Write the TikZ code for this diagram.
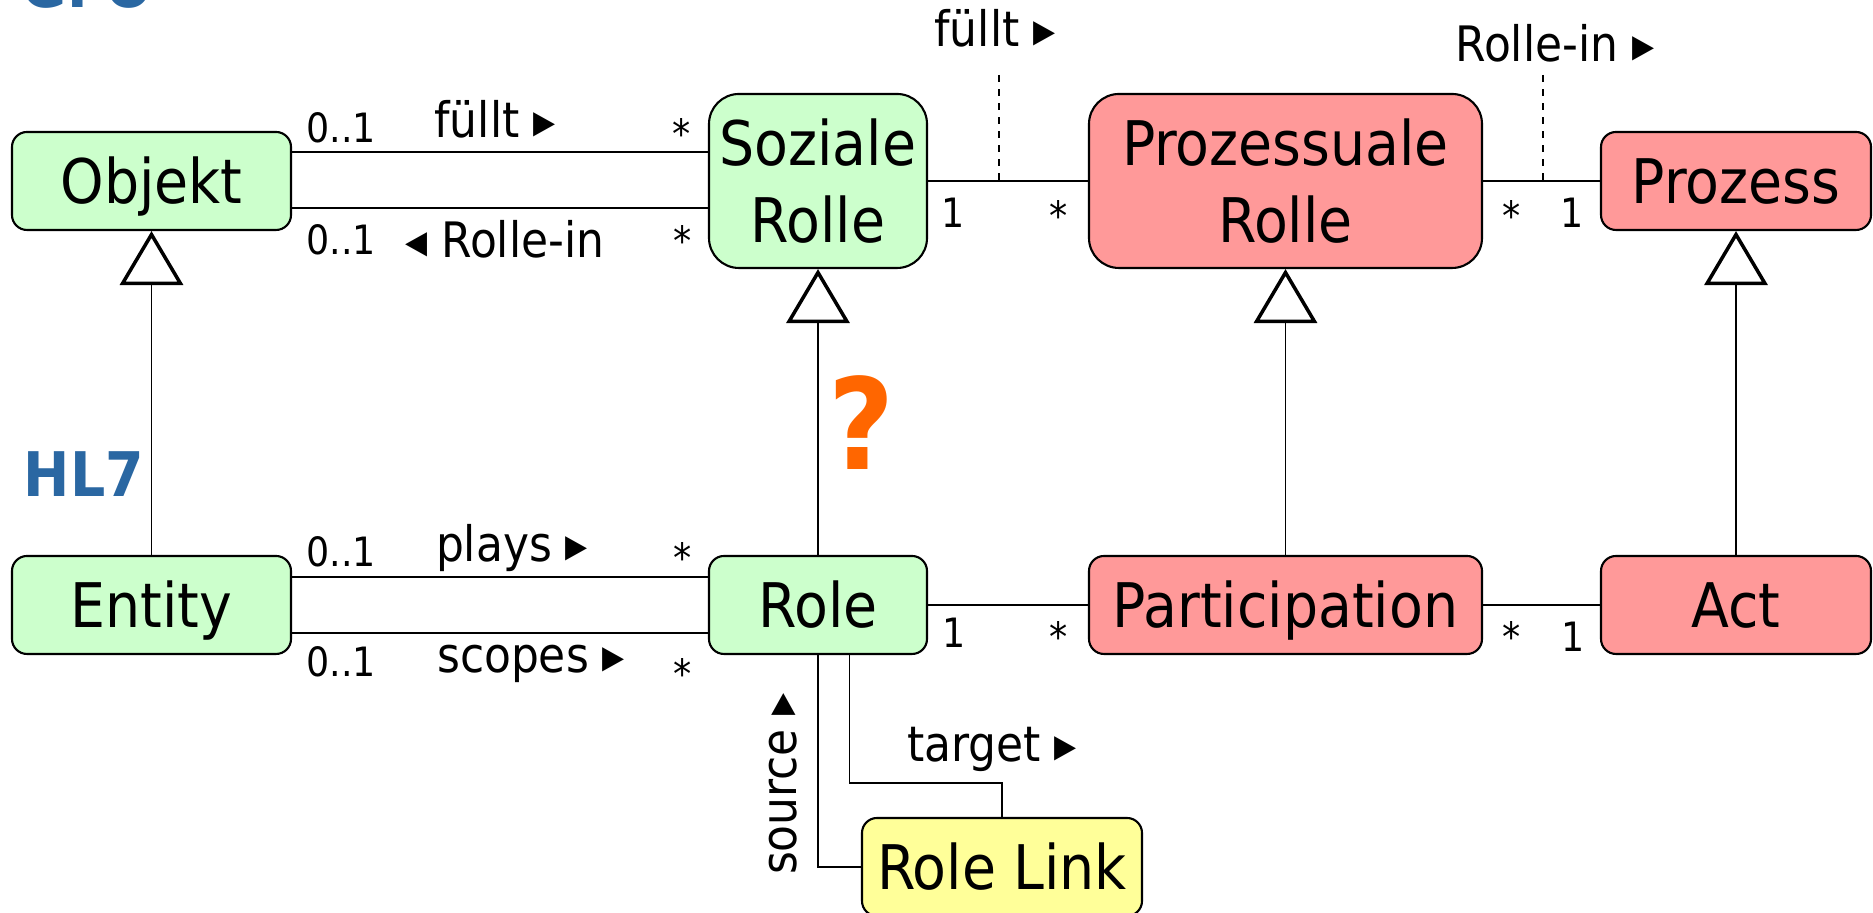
\documentclass[tikz,border=0pt]{standalone}
\usepackage{fontspec}
\setmainfont{DejaVu Sans Condensed}[BoldFont={DejaVu Sans Condensed Bold}]
\usetikzlibrary{arrows.meta}
\definecolor{umlgreen}{HTML}{CCFFCC}
\definecolor{umlred}{HTML}{FF9999}
\definecolor{umlyellow}{HTML}{FFFF99}
\definecolor{pkgblue}{HTML}{2A67A2}
\definecolor{qorange}{HTML}{FF6600}
\newcommand{\boxfont}{\fontsize{17.5pt}{21.9pt}\selectfont}

\begin{document}
\begin{tikzpicture}[
		cls/.style={draw, line width=0.6pt, rounded corners=0.15cm, inner sep=0pt, font=\boxfont, minimum height=0.98cm, text height=12.8pt, text depth=0pt},
		tall/.style={draw, line width=0.6pt, rounded corners=0.3cm, inner sep=0pt, font=\boxfont, minimum height=1.74cm, align=center},
		assoc/.style={line width=0.45pt},
		gen/.style={line width=0.45pt, -{Triangle[open, length=0.54cm, width=0.63cm, line width=1pt]}},
		hint/.style={line width=0.45pt, dash pattern=on 2pt off 2pt},
		mult/.style={anchor=base, inner sep=0pt, font=\fontsize{11.5pt}{14pt}\selectfont},
		rname/.style={anchor=base, inner sep=0pt, font=\fontsize{13.9pt}{17pt}\selectfont},
		pkg/.style={anchor=base, inner sep=0pt, text=pkgblue, font=\fontsize{17.5pt}{21pt}\selectfont\bfseries}
	]
		\useasboundingbox (0,0) rectangle (18.73,9.13);
		
		% GFO classes
		\node[cls, fill=umlgreen, minimum width=2.79cm] (obj) at (1.515,7.32) {Objekt};
		\node[tall, fill=umlgreen, minimum width=2.18cm] (soz) at (8.18,7.32) {Soziale\\Rolle};
		\node[tall, fill=umlred, minimum width=3.93cm] (proz) at (12.855,7.32) {Prozessuale\\Rolle};
		\node[cls, fill=umlred, minimum width=2.70cm] (prz) at (17.36,7.32) {Prozess};
		
		% HL7 classes
		\node[cls, fill=umlgreen, minimum width=2.79cm] (ent) at (1.515,3.08) {Entity};
		\node[cls, fill=umlgreen, minimum width=2.18cm] (role) at (8.18,3.08) {Role};
		\node[cls, fill=umlred, minimum width=3.93cm] (part) at (12.855,3.08) {Participation};
		\node[cls, fill=umlred, minimum width=2.70cm] (act) at (17.36,3.08) {Act};
		\node[cls, fill=umlyellow, minimum width=2.80cm] (rlink) at (10.02,0.46) {Role Link};
		
		\node[pkg] (gfo) at (0.87,9.05) {GFO};
		\node[pkg] (hl7) at (0.84,4.16) {HL7};
		
		% associations, top row
		\draw[assoc] ([yshift=0.29cm]obj.east) -- ([yshift=0.29cm]soz.west);
		\draw[assoc] ([yshift=-0.27cm]obj.east) -- ([yshift=-0.27cm]soz.west);
		\draw[assoc] (soz) -- (proz);
		\draw[assoc] (proz) -- (prz);
		
		\coordinate (q1) at (9.99,8.38);
		\coordinate (q2) at (15.43,8.38);
		\draw[hint] (q1) -- (q1 |- soz.east);
		\draw[hint] (q2) -- (q2 |- prz.west);
		
		\node[mult] (m1) at (3.41,7.70) {0..1};
		\node[mult] (m2) at (6.82,7.64) {*};
		\node[rname] (r1) at (4.95,7.75) {füllt ▸};
		\node[mult] (m3) at (3.41,6.58) {0..1};
		\node[mult] (m4) at (6.83,6.57) {*};
		\node[rname] (r2) at (5.05,6.55) {◂ Rolle-in};
		\node[mult] (m5) at (9.53,6.85) {1};
		\node[mult] (m6) at (10.59,6.82) {*};
		\node[rname] (r3) at (9.95,8.66) {füllt ▸};
		\node[mult] (m7) at (15.12,6.82) {*};
		\node[mult] (m8) at (15.72,6.85) {1};
		\node[rname] (r4) at (15.55,8.51) {Rolle-in ▸};
		
		% associations, bottom row
		\draw[assoc] ([yshift=0.28cm]ent.east) -- ([yshift=0.28cm]role.west);
		\draw[assoc] ([yshift=-0.28cm]ent.east) -- ([yshift=-0.28cm]role.west);
		\draw[assoc] (role) -- (part);
		\draw[assoc] (part) -- (act);
		\draw[assoc] (role.south) |- (rlink.west);
		\draw[assoc] ([xshift=0.315cm]role.south) |- ([yshift=0.34cm]rlink.north) -- (rlink.north);
		
		\node[mult] (m9) at (3.41,3.46) {0..1};
		\node[mult] (m10) at (6.83,3.40) {*};
		\node[rname] (r5) at (5.12,3.51) {plays ▸};
		\node[mult] (m11) at (3.41,2.36) {0..1};
		\node[mult] (m12) at (6.83,2.24) {*};
		\node[rname] (r6) at (5.31,2.40) {scopes ▸};
		\node[mult] (m13) at (9.54,2.65) {1};
		\node[mult] (m14) at (10.59,2.61) {*};
		\node[mult] (m15) at (15.12,2.61) {*};
		\node[mult] (m16) at (15.73,2.61) {1};
		\node[rname] (r7) at (9.92,1.51) {target ▸};
		\node[rname, rotate=90] (r8) at (7.96,1.29) {source ▸};
		
		% generalisations
		\draw[gen] (ent) -- (obj);
		\draw[gen] (role) -- (soz);
		\draw[gen] (part) -- (proz);
		\draw[gen] (act) -- (prz);
		
		\node[anchor=base, inner sep=0pt, text=qorange, font=\fontsize{36pt}{40pt}\selectfont\bfseries] (qm) at (8.62,4.43) {?};
	\end{tikzpicture}
\end{document}
